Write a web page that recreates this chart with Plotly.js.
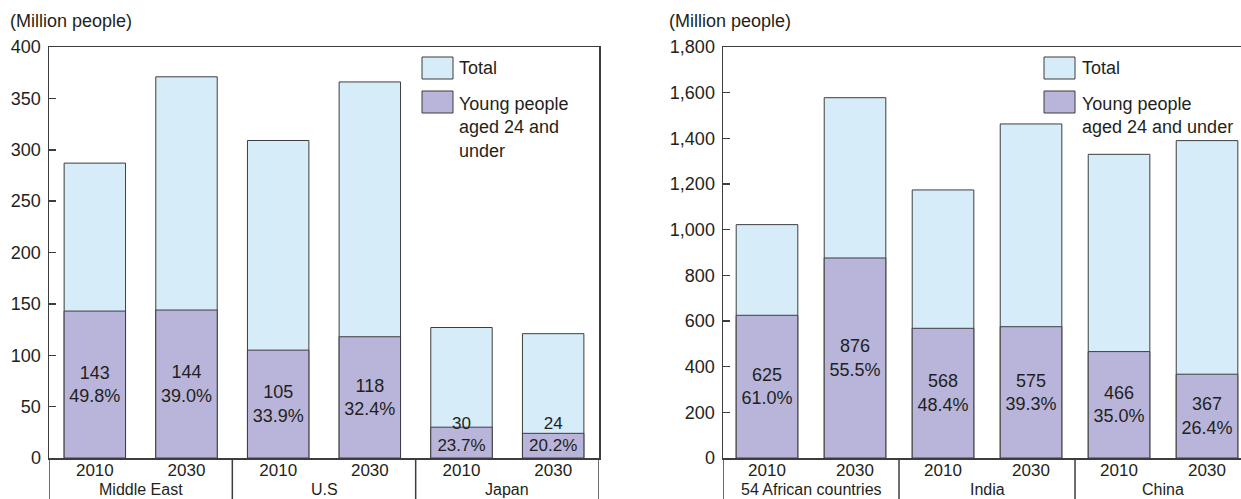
<!DOCTYPE html>
<html>
<head>
<meta charset="utf-8">
<script src="https://cdn.plot.ly/plotly-3.0.1.min.js"></script>
<style>html,body{margin:0;padding:0;background:#fff;}#chart{width:1241px;height:499px;}</style>
</head>
<body>
<div id="chart"></div>
<script>
// ---- data (left panel) ----
const leftGroups = ["Middle East", "U.S", "Japan"];
const leftYears = ["2010", "2030", "2010", "2030", "2010", "2030"];
const leftCats = ["Middle East 2010", "Middle East 2030", "U.S 2010", "U.S 2030", "Japan 2010", "Japan 2030"];
const leftTotal = [287, 371, 309, 366, 127, 121];
const leftYoung = [143, 144, 105, 118, 30, 24];
const leftPct = ["49.8%", "39.0%", "33.9%", "32.4%", "23.7%", "20.2%"];
const leftTicks = [0, 50, 100, 150, 200, 250, 300, 350, 400];

// ---- data (right panel) ----
const rightGroups = ["54 African countries", "India", "China"];
const rightYears = ["2010", "2030", "2010", "2030", "2010", "2030"];
const rightCats = ["Africa 2010", "Africa 2030", "India 2010", "India 2030", "China 2010", "China 2030"];
const rightTotal = [1022, 1578, 1174, 1463, 1330, 1390];
const rightYoung = [625, 876, 568, 575, 466, 367];
const rightPct = ["61.0%", "55.5%", "48.4%", "39.3%", "35.0%", "26.4%"];
const rightTicks = [0, 200, 400, 600, 800, 1000, 1200, 1400, 1600, 1800];

const legendLabels = ["Total", "Young people aged 24 and under"];
const unitLabel = "(Million people)";

// ---- styling ----
const W = 1241, H = 499, T = 47, B = 41;
const PH = H - T - B;
const px = x => x / W;
const py = y => 1 - (y - T) / PH;
const txt = "#231f20";
const lineC = "#3d3d3d";
const cTotal = "#d6edf9";
const cYoung = "#b9b5da";
const FONT = "Liberation Sans, Arial, sans-serif";
const FS = 18;

function barText(young, pct) { return young.map((v, i) => v + "<br>" + pct[i]); }
const leftText = barText(leftYoung, leftPct);
const rightText = barText(rightYoung, rightPct);
// the last two (short Japan) bars carry their labels anchored at the bar base
const nMain = 4;

const barLine = {color: lineC, width: 1};
const traces = [
  {type: "bar", x: leftCats, y: leftTotal, xaxis: "x", yaxis: "y", width: 0.67,
   marker: {color: cTotal, line: barLine}, name: legendLabels[0], hoverinfo: "skip", showlegend: false},
  {type: "bar", x: leftCats.slice(0, nMain), y: leftYoung.slice(0, nMain), xaxis: "x", yaxis: "y", width: 0.67,
   marker: {color: cYoung, line: barLine}, name: legendLabels[1], showlegend: false,
   text: leftText.slice(0, nMain), textposition: "inside", insidetextanchor: "middle",
   textfont: {size: FS, color: txt, family: FONT}, constraintext: "none", cliponaxis: false, hoverinfo: "skip"},
  {type: "bar", x: leftCats.slice(nMain), y: leftYoung.slice(nMain), xaxis: "x", yaxis: "y", width: 0.67,
   marker: {color: cYoung, line: barLine}, name: legendLabels[1], showlegend: false,
   text: leftText.slice(nMain), textposition: "inside", insidetextanchor: "start",
   textfont: {size: 17, color: txt, family: FONT}, constraintext: "none", cliponaxis: false, hoverinfo: "skip"},
  {type: "bar", x: rightCats, y: rightTotal, xaxis: "x2", yaxis: "y2", width: 0.70,
   marker: {color: cTotal, line: barLine}, name: legendLabels[0], hoverinfo: "skip", showlegend: false},
  {type: "bar", x: rightCats, y: rightYoung, xaxis: "x2", yaxis: "y2", width: 0.70,
   marker: {color: cYoung, line: barLine}, name: legendLabels[1], showlegend: false,
   text: rightText, textposition: "inside", insidetextanchor: "middle",
   textfont: {size: FS, color: txt, family: FONT}, constraintext: "none", cliponaxis: false, hoverinfo: "skip"}
];

const xBase = {type: "category", showgrid: false, zeroline: false, showline: true, linecolor: lineC, linewidth: 1.5,
  mirror: true, ticks: "", tickfont: {size: 17, color: txt, family: FONT}, ticklabelstandoff: -4, fixedrange: true};
const yBase = {showgrid: false, zeroline: false, showline: true, linecolor: lineC, linewidth: 1.5,
  ticks: "inside", ticklen: 7, tickwidth: 1.5, tickcolor: lineC, tickfont: {size: FS, color: txt, family: FONT},
  ticklabelstandoff: 3, fixedrange: true};

const shapes = [];
const annotations = [];

function addPanel(xr, groups, xLeft, hasRight, legX, legTextX, youngText, youngCenter) {
  // dividers below axis
  const divs = [-0.5, 1.5, 3.5].concat(hasRight ? [5.5] : []);
  divs.forEach(d => shapes.push({type: "line", xref: xr, yref: "paper", x0: d, x1: d, y0: 0, y1: py(H + 5),
    line: {color: lineC, width: 1.5}}));
  groups.forEach((g, i) => annotations.push({xref: xr, yref: "paper", x: 2 * i + 0.5, y: py(489), text: g,
    showarrow: false, xanchor: "center", yanchor: "middle", font: {size: 16, color: txt, family: FONT}}));
  // legend swatches
  shapes.push({type: "rect", xref: "paper", yref: "paper", x0: px(legX), x1: px(legX + 31), y0: py(57), y1: py(79),
    fillcolor: cTotal, line: {color: lineC, width: 1}});
  shapes.push({type: "rect", xref: "paper", yref: "paper", x0: px(legX), x1: px(legX + 31), y0: py(91), y1: py(113),
    fillcolor: cYoung, line: {color: lineC, width: 1}});
  annotations.push({xref: "paper", yref: "paper", x: px(legTextX), y: py(68), text: legendLabels[0], showarrow: false,
    xanchor: "left", yanchor: "middle", font: {size: FS, color: txt, family: FONT}});
  annotations.push({xref: "paper", yref: "paper", x: px(legTextX), y: py(youngCenter), text: youngText, showarrow: false,
    xanchor: "left", yanchor: "middle", align: "left", font: {size: FS, color: txt, family: FONT}});
  // unit label
  annotations.push({xref: "paper", yref: "paper", x: px(xLeft), y: py(21), text: unitLabel, showarrow: false,
    xanchor: "left", yanchor: "middle", font: {size: FS, color: txt, family: FONT}});
}

addPanel("x", leftGroups, 8, true, 422, 457, "Young people<br>aged 24 and<br>under", 127);
addPanel("x2", rightGroups, 667, false, 1044, 1080, "Young people<br>aged 24 and under", 115);

const layout = {
  width: W, height: H,
  margin: {l: 0, r: 0, t: T, b: B, pad: 0},
  paper_bgcolor: "#fff", plot_bgcolor: "#fff",
  barmode: "overlay",
  showlegend: false,
  font: {family: FONT, color: txt, size: FS},
  uniformtext: {mode: "show", minsize: 17},
  xaxis: Object.assign({}, xBase, {domain: [px(49), px(599)], range: [-0.5, 5.5], anchor: "y",
    tickvals: leftCats, ticktext: leftYears}),
  yaxis: Object.assign({}, yBase, {domain: [0, 1], range: [0, 400], anchor: "x", mirror: true,
    tickvals: leftTicks, ticktext: leftTicks.map(String)}),
  xaxis2: Object.assign({}, xBase, {domain: [px(723), 1], range: [-0.5, 5.386], anchor: "y2",
    tickvals: rightCats, ticktext: rightYears}),
  yaxis2: Object.assign({}, yBase, {domain: [0, 1], range: [0, 1800], anchor: "x2", mirror: false,
    tickvals: rightTicks, ticktext: rightTicks.map(v => v.toLocaleString("en-US"))}),
  shapes: shapes,
  annotations: annotations
};

Plotly.newPlot("chart", traces, layout, {displayModeBar: false, staticPlot: true});
</script>
</body>
</html>
